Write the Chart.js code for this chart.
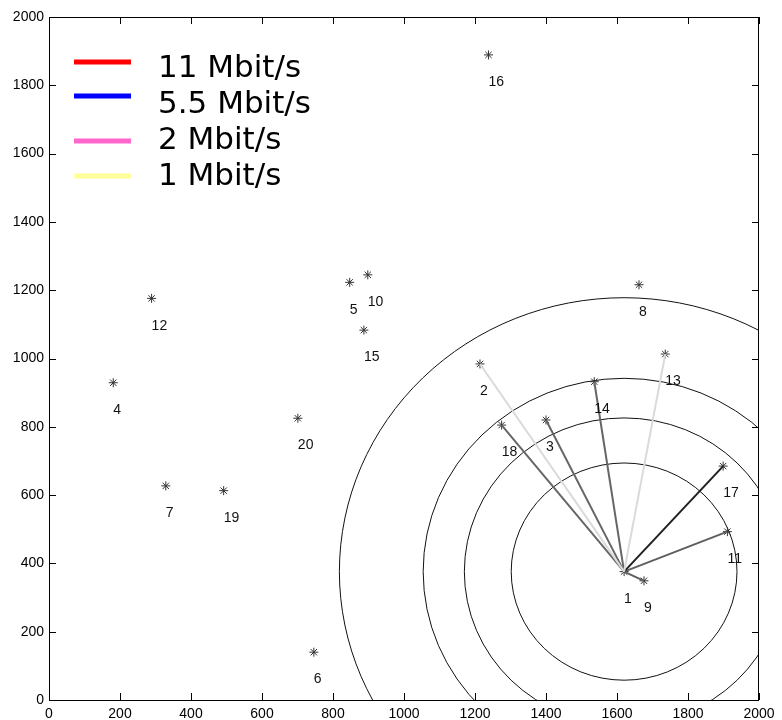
<!DOCTYPE html>
<html>
<head>
<meta charset="utf-8">
<script src="https://cdn.jsdelivr.net/npm/chart.js@4.4.1/dist/chart.umd.min.js"></script>
<style>
  body { margin: 0; background: #fff; }
  canvas { display: block; }
</style>
</head>
<body>
<canvas id="c" width="782" height="720"></canvas>
<script>
// node positions
const nodeIds = [1, 2, 3, 4, 5, 6, 7, 8, 9, 10, 11, 12, 13, 14, 15, 16, 17, 18, 19, 20];
const nodeX = [1620, 1214, 1400, 181, 847, 746, 329, 1662, 1676, 898, 1911, 289, 1736, 1536, 887, 1238, 1899, 1275, 492, 701];
const nodeY = [376, 984, 820, 929, 1223, 140, 627, 1216, 349, 1245, 493, 1176, 1013, 932, 1083, 1889, 685, 805, 613, 825];

// links from node 1 and the rate they use
const linkFrom = 1;
const linkTo = [2, 13, 18, 3, 14, 17, 11, 9];
const linkRate = ['1', '1', '2', '2', '2', '5.5', '11', '11'];

// range circles round node 1
const rangeRadii = [318, 450, 566, 802];

const legendLabels = ['11 Mbit/s', '5.5 Mbit/s', '2 Mbit/s', '1 Mbit/s'];
const legendColors = ['#ff0000', '#0000ff', '#ff66cc', '#ffff99'];

const axisTicks = [0, 200, 400, 600, 800, 1000, 1200, 1400, 1600, 1800, 2000];

// grey the links are drawn in
const rateShade = { '11': '#5f5f5f', '5.5': '#202020', '2': '#666666', '1': '#dadada' };

const pos = id => {
  const i = nodeIds.indexOf(id);
  return { x: nodeX[i], y: nodeY[i] };
};

const linkSets = linkTo.map((t, k) => ({
  data: [pos(linkFrom), pos(t)],
  showLine: true,
  borderColor: rateShade[linkRate[k]],
  borderWidth: 2,
  pointRadius: 0
}));

const nodeSet = {
  data: nodeIds.map((id, i) => ({ x: nodeX[i], y: nodeY[i] })),
  showLine: false,
  pointStyle: 'star',
  pointRadius: 4.5,
  borderColor: '#333',
  borderWidth: 1
};

const circles = {
  id: 'circles',
  beforeDatasetsDraw(chart) {
    const { ctx, chartArea: a, scales: { x, y } } = chart;
    const c = pos(linkFrom);
    const cx = x.getPixelForValue(c.x), cy = y.getPixelForValue(c.y);
    ctx.save();
    ctx.beginPath();
    ctx.rect(a.left, a.top, a.width, a.height);
    ctx.clip();
    ctx.strokeStyle = '#111';
    ctx.lineWidth = 1;
    rangeRadii.forEach(r => {
      const rx = x.getPixelForValue(c.x + r) - cx;
      const ry = cy - y.getPixelForValue(c.y + r);
      ctx.beginPath();
      ctx.ellipse(cx, cy, rx, ry, 0, 0, Math.PI * 2);
      ctx.stroke();
    });
    ctx.restore();
  }
};

const nodeLabels = {
  id: 'nodeLabels',
  afterDatasetsDraw(chart) {
    const { ctx, scales: { x, y } } = chart;
    ctx.save();
    ctx.font = '14px "Liberation Sans", Arial, sans-serif';
    ctx.fillStyle = '#111';
    ctx.textAlign = 'left';
    ctx.textBaseline = 'middle';
    nodeIds.forEach((id, i) => {
      ctx.fillText(String(id), x.getPixelForValue(nodeX[i]), y.getPixelForValue(nodeY[i] - 80));
    });
    ctx.restore();
  }
};

const frame = {
  id: 'frame',
  afterDraw(chart) {
    const { ctx, chartArea: a, scales: { x, y } } = chart;
    const len = 7;
    ctx.save();
    ctx.strokeStyle = '#000';
    ctx.lineWidth = 1;
    ctx.strokeRect(Math.round(a.left) + 0.5, Math.round(a.top) + 0.5,
      Math.round(a.width) - 1, Math.round(a.height));
    ctx.beginPath();
    x.ticks.forEach(t => {
      const px = Math.round(x.getPixelForValue(t.value)) + 0.5;
      ctx.moveTo(px, a.bottom); ctx.lineTo(px, a.bottom - len);
      ctx.moveTo(px, a.top); ctx.lineTo(px, a.top + len);
    });
    y.ticks.forEach(t => {
      const py = Math.round(y.getPixelForValue(t.value)) + 0.5;
      ctx.moveTo(a.left, py); ctx.lineTo(a.left + len, py);
      ctx.moveTo(a.right, py); ctx.lineTo(a.right - len, py);
    });
    ctx.stroke();

    // legend in the top left corner
    const lineY = [62, 96, 141, 176];
    const textY = [77, 113, 149, 185];
    ctx.font = '31px "DejaVu Sans", Verdana, sans-serif';
    ctx.fillStyle = '#000';
    ctx.textAlign = 'left';
    ctx.textBaseline = 'alphabetic';
    legendLabels.forEach((lab, i) => {
      ctx.strokeStyle = legendColors[i];
      ctx.lineWidth = 5;
      ctx.beginPath();
      ctx.moveTo(74, lineY[i]);
      ctx.lineTo(131, lineY[i]);
      ctx.stroke();
      ctx.fillText(lab, 158, textY[i]);
    });
    ctx.restore();
  }
};

const tickFont = { family: '"Liberation Sans", Arial, sans-serif', size: 14 };

new Chart(document.getElementById('c'), {
  type: 'scatter',
  data: { datasets: [...linkSets, nodeSet] },
  options: {
    responsive: false,
    devicePixelRatio: 1,
    animation: false,
    layout: { padding: { top: 17, right: 23, left: 0, bottom: 0 } },
    plugins: { legend: { display: false }, tooltip: { enabled: false } },
    scales: {
      x: {
        type: 'linear', min: 0, max: 2000,
        afterBuildTicks: s => { s.ticks = axisTicks.map(v => ({ value: v })); },
        afterFit: s => { s.height = 20; },
        grid: { display: false, drawTicks: false },
        border: { display: false },
        ticks: { color: '#000', font: tickFont, padding: 6, autoSkip: false, maxRotation: 0, callback: v => String(v) }
      },
      y: {
        type: 'linear', min: 0, max: 2000,
        afterBuildTicks: s => { s.ticks = axisTicks.map(v => ({ value: v })); },
        afterFit: s => { s.width = 49; },
        grid: { display: false, drawTicks: false },
        border: { display: false },
        ticks: { color: '#000', font: tickFont, padding: 5, autoSkip: false, callback: v => String(v) }
      }
    }
  },
  plugins: [circles, nodeLabels, frame]
});
</script>
</body>
</html>
